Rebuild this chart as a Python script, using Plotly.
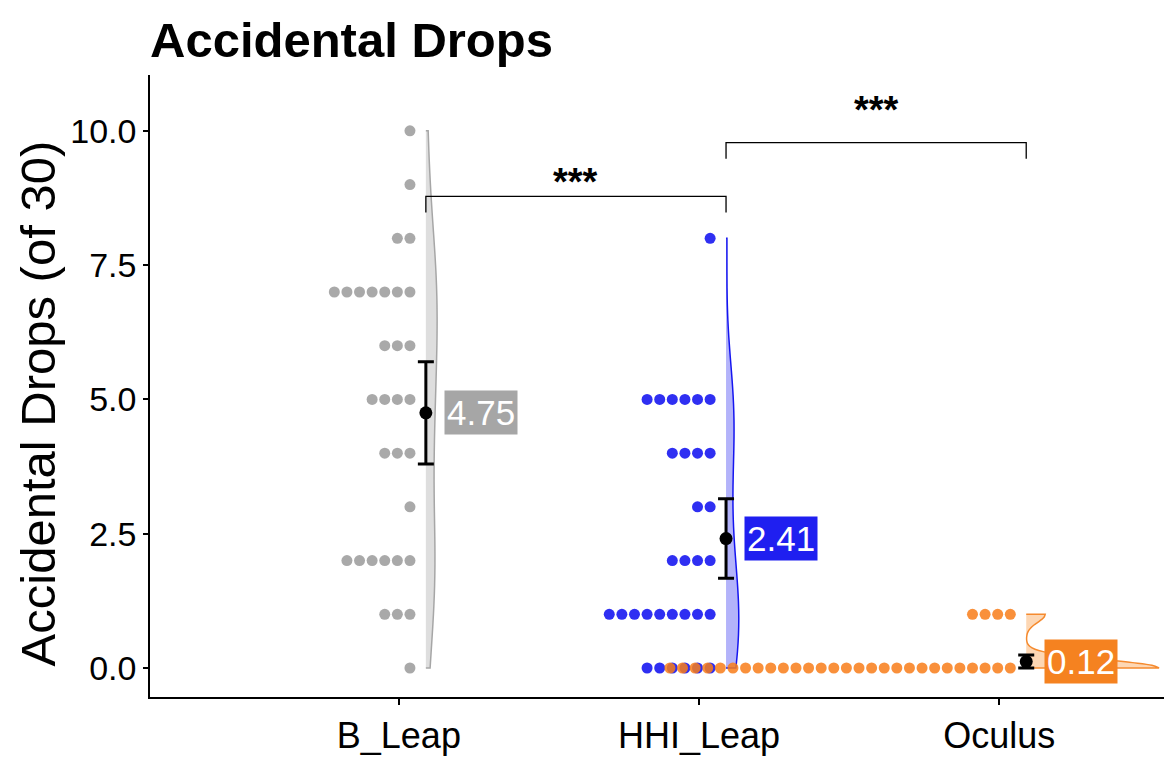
import plotly.graph_objects as go

# ---------------- data ----------------
groups = ["B_Leap", "HHI_Leap", "Oculus"]
drop_values = [0, 1, 2, 3, 4, 5, 6, 7, 8, 9, 10]
counts_b_leap = [1, 3, 6, 1, 3, 4, 3, 7, 2, 1, 1]
counts_hhi_leap = [6, 9, 4, 2, 4, 6, 0, 0, 1, 0, 0]
counts_oculus = [28, 4, 0, 0, 0, 0, 0, 0, 0, 0, 0]
means = [4.75, 2.41, 0.12]
ci_half = [0.95, 0.74, 0.12]
mean_labels = ["4.75", "2.41", "0.12"]
bandwidths = [1.2, 0.94, 0.15]
sig_pairs = [(0, 1), (1, 2)]
sig_levels = [8.78, 9.78]
sig_text_y = [9.05, 10.39]
sig_text = ["***", "***"]

# ---------------- style ----------------
FONT = "Liberation Sans, Arial, sans-serif"
dot_colors = ["rgba(160,160,160,0.9)", "rgba(10,10,240,0.85)", "rgba(248,125,25,0.85)"]
violin_fill = ["rgba(200,200,200,0.6)", "rgba(20,20,240,0.32)", "rgba(250,140,40,0.35)"]
violin_line = ["#A6A6A6", "#1515F0", "#F58A2E"]
label_bg = ["#A6A6A6", "#1F1FF0", "#F58220"]
violin_width = [0.075, 0.085, 0.885]
VIOLIN_OFF = 0.09
DOT_START = 0.037
DOT_STEP = 0.042

count_lists = [counts_b_leap, counts_hhi_leap, counts_oculus]

fig = go.Figure()

# dots (stacked leftwards)
for gi, counts in enumerate(count_lists):
    cat = gi + 1
    xs, ys = [], []
    for v, c in zip(drop_values, counts):
        for k in range(c):
            xs.append(cat + DOT_START - k * DOT_STEP)
            ys.append(v)
    fig.add_trace(go.Scatter(
        x=xs, y=ys, mode="markers",
        marker=dict(size=11, color=dot_colors[gi], line=dict(width=0)),
        showlegend=False, hoverinfo="skip"))

# half violins
for gi, counts in enumerate(count_lists):
    cat = gi + 1
    vals = []
    for v, c in zip(drop_values, counts):
        vals += [v] * c
    fig.add_trace(go.Violin(
        x=[cat + VIOLIN_OFF] * len(vals), y=vals,
        side="positive", spanmode="hard", bandwidth=bandwidths[gi],
        width=violin_width[gi], points=False,
        box_visible=False, meanline_visible=False,
        fillcolor=violin_fill[gi], line=dict(color=violin_line[gi], width=1.5),
        showlegend=False, hoverinfo="skip", scalemode="width"))

# mean + CI
fig.add_trace(go.Scatter(
    x=[i + 1 + VIOLIN_OFF for i in range(len(groups))], y=means,
    mode="markers",
    marker=dict(size=13, color="black"),
    error_y=dict(type="data", array=ci_half, color="black", thickness=3, width=8),
    showlegend=False, hoverinfo="skip"))

# mean labels
for gi, m in enumerate(means):
    fig.add_annotation(
        x=gi + 1 + VIOLIN_OFF + 0.06, y=m, xref="x", yref="y",
        text=mean_labels[gi], showarrow=False, xanchor="left", yanchor="middle",
        font=dict(family=FONT, size=35, color="white"),
        bgcolor=label_bg[gi], borderpad=2)

# significance brackets
for (a, b), lvl, ty, txt in zip(sig_pairs, sig_levels, sig_text_y, sig_text):
    xa = a + 1 + VIOLIN_OFF
    xb = b + 1 + VIOLIN_OFF
    fig.add_shape(type="path",
                  path=f"M {xa},{lvl-0.3} L {xa},{lvl} L {xb},{lvl} L {xb},{lvl-0.3}",
                  xref="x", yref="y", line=dict(color="black", width=1.3))
    fig.add_annotation(x=(xa + xb) / 2, y=ty, xref="x", yref="y",
                       text=f"<b>{txt}</b>", showarrow=False, yanchor="middle",
                       font=dict(family=FONT, size=38, color="black"))

# y-axis title
fig.add_annotation(
    x=0, y=0.472, xref="paper", yref="paper", xshift=-112,
    text="Accidental Drops (of 30)", textangle=-90, showarrow=False,
    xanchor="center", yanchor="middle",
    font=dict(family=FONT, size=49, color="black"))

fig.update_layout(
    width=1164, height=769,
    margin=dict(l=150, r=0, t=75, b=72),
    plot_bgcolor="white", paper_bgcolor="white",
    violinmode="overlay",
    title=dict(text="<b>Accidental Drops</b>", x=150 / 1164, xanchor="left",
               xref="container", y=1 - 40 / 769, yanchor="middle", yref="container",
               font=dict(family=FONT, size=49, color="black")),
    font=dict(family=FONT, color="black"),
)
fig.update_xaxes(
    range=[0.171, 3.549], tickvals=[1, 2, 3], ticktext=groups,
    showline=True, linecolor="black", linewidth=1.5,
    ticks="outside", ticklen=6, tickwidth=1.5, tickcolor="black",
    showgrid=False, zeroline=False,
    tickfont=dict(family=FONT, size=36, color="black"))
fig.update_yaxes(
    range=[-0.54, 11.04], tickvals=[0, 2.5, 5, 7.5, 10],
    ticktext=["0.0", "2.5", "5.0", "7.5", "10.0"],
    showline=True, linecolor="black", linewidth=1.5,
    ticks="outside", ticklen=5, tickwidth=1.5, tickcolor="black",
    showgrid=False, zeroline=False,
    tickfont=dict(family=FONT, size=34, color="black"))

fig.write_html("out.html")
